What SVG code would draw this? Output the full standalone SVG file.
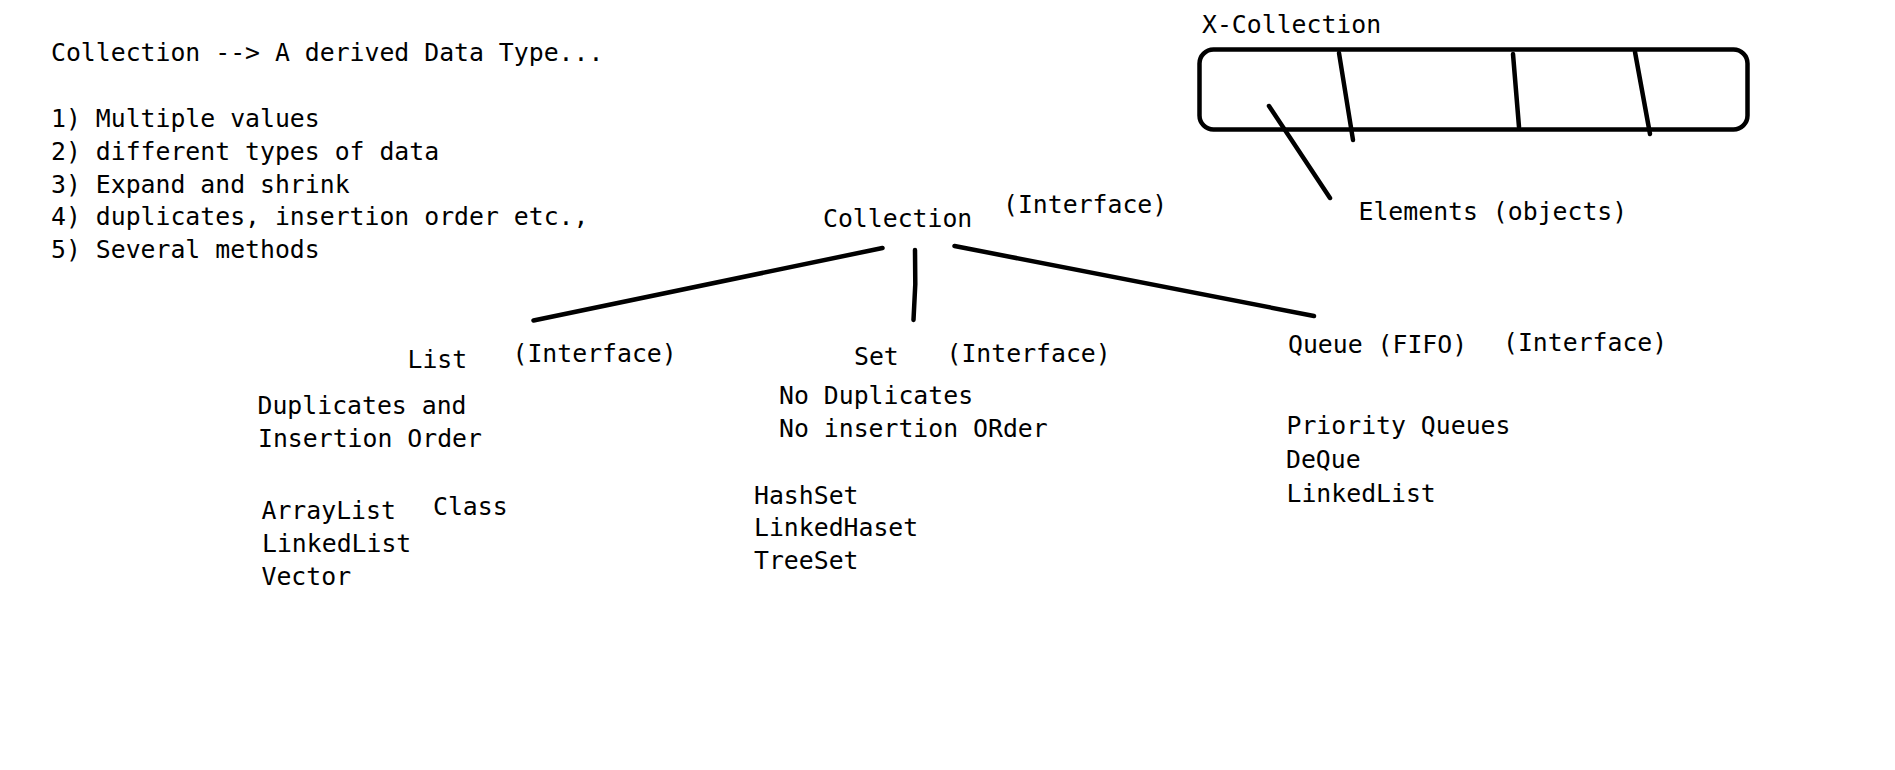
<svg xmlns="http://www.w3.org/2000/svg" width="1895" height="770" viewBox="0 0 1895 770">
<style>
text{font-family:"DejaVu Sans Mono","Liberation Mono",monospace;font-size:24.8px;fill:#000}
.ln{stroke:#000;stroke-width:4.5;stroke-linecap:round;stroke-linejoin:round;fill:none}
</style>
<rect width="1895" height="770" fill="#fff"/>
<g id="notes">
<text x="51" y="61">Collection --&gt; A derived Data Type...</text>
<text x="51" y="127">1) Multiple values</text>
<text x="51" y="160">2) different types of data</text>
<text x="51" y="192.5">3) Expand and shrink</text>
<text x="51" y="225">4) duplicates, insertion order etc.,</text>
<text x="51" y="258">5) Several methods</text>
</g>
<g id="x-collection">
<text x="1202" y="32.5">X-Collection</text>
<rect class="ln" x="1199.5" y="49.5" width="548" height="80" rx="14" ry="14"/>
<line class="ln" x1="1339" y1="53" x2="1353" y2="140"/>
<line class="ln" x1="1513" y1="54" x2="1519" y2="127"/>
<line class="ln" x1="1635" y1="52" x2="1650" y2="134"/>
<line class="ln" x1="1269" y1="106" x2="1330" y2="198"/>
<text x="1358.5" y="219.5">Elements (objects)</text>
</g>
<g id="collection">
<text x="823" y="227">Collection</text>
<text x="1003" y="213">(Interface)</text>
</g>
<g id="list">
<text x="407.5" y="368">List</text>
<text x="512.5" y="361.5">(Interface)</text>
<text x="257.5" y="414">Duplicates and</text>
<text x="258" y="446.5">Insertion Order</text>
<text x="261.5" y="518.5">ArrayList</text>
<text x="433" y="515">Class</text>
<text x="262" y="551.5">LinkedList</text>
<text x="261.5" y="585">Vector</text>
</g>
<g id="set">
<text x="854" y="365">Set</text>
<text x="946.5" y="361.5">(Interface)</text>
<text x="779" y="404">No Duplicates</text>
<text x="779" y="436.5">No insertion ORder</text>
<text x="754" y="503.5">HashSet</text>
<text x="754" y="536">LinkedHaset</text>
<text x="754" y="569">TreeSet</text>
</g>
<g id="queue">
<text x="1288" y="352.5">Queue (FIFO)</text>
<text x="1503" y="350.5">(Interface)</text>
<text x="1286.5" y="434">Priority Queues</text>
<text x="1286" y="468">DeQue</text>
<text x="1286.5" y="501.5">LinkedList</text>
</g>
<g id="connectors">
<line class="ln" x1="882.5" y1="248" x2="533.5" y2="320.5"/>
<polyline class="ln" points="915,250 915.3,284 913.5,320"/>
<line class="ln" x1="954.5" y1="246" x2="1314" y2="316"/>
</g>
</svg>
